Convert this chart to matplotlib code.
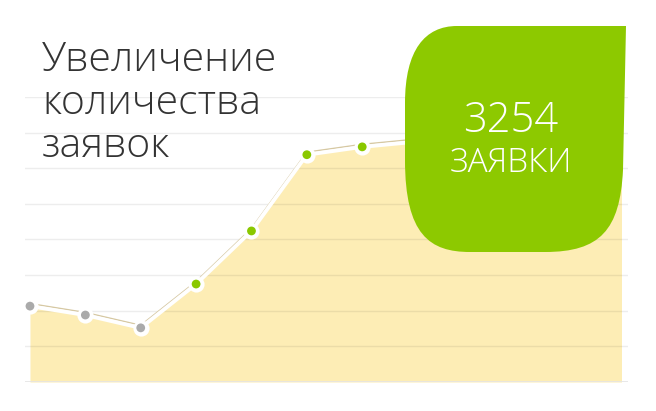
import matplotlib
matplotlib.use('Agg')
import matplotlib.pyplot as plt
import matplotlib.transforms as mtransforms
from matplotlib.path import Path
from matplotlib.patches import PathPatch, Rectangle
import numpy as np

# Data (grid steps; points behind the badge estimated)
months = np.arange(12)
requests = [2.13, 1.88, 1.52, 2.75, 4.24, 6.38, 6.60, 6.75, 6.85, 6.95, 7.05, 7.15]
highlight = [False, False, False, True, True, True, True, True, True, True, True, True]
grid_levels = np.arange(1, 9)

title = "Увеличение\nколичества\nзаявок"
badge_number = "3254"
badge_label = "ЗАЯВКИ"

W, H = 656, 411
fig = plt.figure(figsize=(W / 100, H / 100), dpi=100)
fig.patch.set_facecolor('white')

# axes span the gridline area
ax = fig.add_axes([25 / W, 29 / H, 603 / W, 285 / H])
ax.set_xlim(-0.09, 10.8)
ax.set_ylim(0, 8)
ax.axis('off')

# the series stops a few pixels before the gridlines end
right = 596 / 603
fill_clip = Rectangle((0, 0), right, 1, transform=ax.transAxes)
mark_clip = Rectangle((-0.03, -0.1), right + 0.03, 1.3, transform=ax.transAxes)

fill = ax.fill_between(months, requests, 0, color='#fdedb5', lw=0, zorder=1)
fill.set_clip_path(fill_clip)

for g in grid_levels:
    ax.axhline(g, color='black', alpha=0.07, lw=1, zorder=2)
ax.axhline(0, color='#e4e4e4', lw=1.2, zorder=2)

shadow = mtransforms.offset_copy(ax.transData, fig=fig, x=0, y=2.5, units='dots')
l1, = ax.plot(months, requests, color='#d6c8a2', lw=1.1, zorder=3, transform=shadow)
l2, = ax.plot(months, requests, color='white', lw=2.8, zorder=4)

colors = ['#8ac800' if h else '#aaaaaa' for h in highlight]
s1 = ax.scatter(months, requests, s=135, color='white', zorder=5, lw=0)
s2 = ax.scatter(months, requests, s=40, color=colors, zorder=6, lw=0)
for a in (l1, l2, s1, s2):
    a.set_clip_path(mark_clip)

# badge (leaf shape) in pixel coordinates, y down
px = mtransforms.Affine2D().scale(1 / W, -1 / H).translate(0, 1) + fig.transFigure
verts = [(626, 26), (457, 26), (425, 26), (405, 50), (405, 103), (405, 160),
         (405, 235), (430, 252), (470, 252), (545, 252), (600, 252), (620, 230),
         (623, 170), (626, 26)]
codes = [Path.MOVETO, Path.LINETO, Path.CURVE4, Path.CURVE4, Path.CURVE4, Path.LINETO,
         Path.CURVE4, Path.CURVE4, Path.CURVE4, Path.LINETO, Path.CURVE4, Path.CURVE4,
         Path.CURVE4, Path.CLOSEPOLY]
badge = PathPatch(Path(verts, codes), facecolor='#8dc900', edgecolor='none',
                  transform=px, zorder=10)
fig.add_artist(badge)

font = ['Open Sans', 'DejaVu Sans']
fig.text(511 / W, 1 - 132 / H, badge_number, color='white', fontsize=30,
         fontweight='light', family=font, ha='center', va='baseline', zorder=11)
fig.text(511 / W, 1 - 172 / H, badge_label, color='white', fontsize=24,
         fontweight='light', family=font, ha='center', va='baseline', zorder=11)

fig.text(42 / W, 1 - 157 / H, title, color='#333333', fontsize=29.5, linespacing=1.07,
         fontweight='light', family=font, ha='left', va='baseline', zorder=11)

fig.savefig('out.png', dpi=100, facecolor='white')
